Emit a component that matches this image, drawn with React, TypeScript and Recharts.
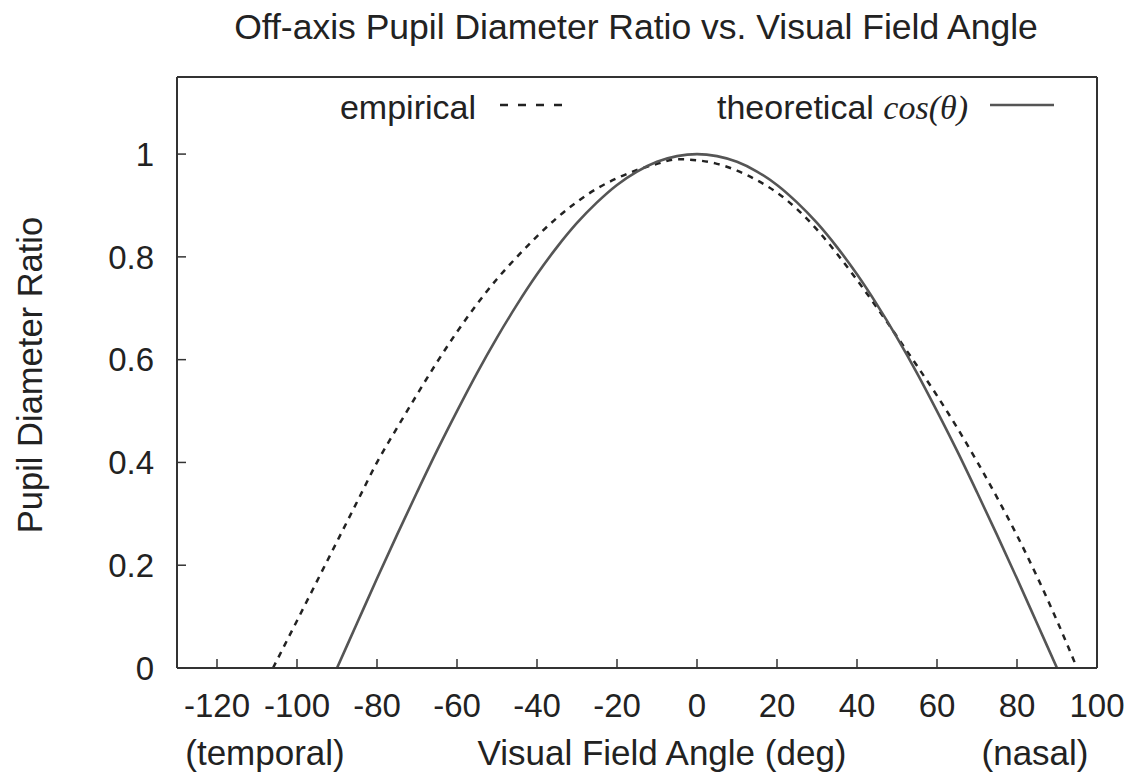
import React from 'react';
import { LineChart, Line, XAxis, YAxis, Legend } from 'recharts';

// empirical curve
const empAngles = [
  -106, -100, -95, -90, -85, -80, -75, -70, -65, -60, -55, -50, -45, -40, -35, -30, -25, -20, -15, -10, -5,
  0, 5, 10, 15, 20, 25, 30, 35, 40, 45, 50, 55, 60, 65, 70, 75, 80, 85, 90, 95,
];
const empValues = [
  0, 0.092, 0.169, 0.246, 0.323, 0.4, 0.467, 0.532, 0.595, 0.654, 0.708, 0.757, 0.8, 0.84, 0.876, 0.907, 0.933,
  0.953, 0.969, 0.981, 0.99, 0.988, 0.981, 0.968, 0.949, 0.925, 0.893, 0.853, 0.806, 0.755, 0.701, 0.645, 0.588,
  0.53, 0.468, 0.402, 0.332, 0.258, 0.178, 0.092, 0,
];

// theoretical cos(theta), solid line
const theoAngles = [
  -90, -85, -80, -75, -70, -65, -60, -55, -50, -45, -40, -35, -30, -25, -20, -15, -10, -5, 0, 5, 10, 15, 20, 25,
  30, 35, 40, 45, 50, 55, 60, 65, 70, 75, 80, 85, 90,
];
const theoValues = [
  0, 0.087, 0.174, 0.259, 0.342, 0.423, 0.5, 0.574, 0.643, 0.707, 0.766, 0.819, 0.866, 0.906, 0.94, 0.966, 0.985,
  0.996, 1, 0.996, 0.985, 0.966, 0.94, 0.906, 0.866, 0.819, 0.766, 0.707, 0.643, 0.574, 0.5, 0.423, 0.342, 0.259,
  0.174, 0.087, 0,
];

const xTicks = [-120, -100, -80, -60, -40, -20, 0, 20, 40, 60, 80, 100];
const yTicks = [0, 0.2, 0.4, 0.6, 0.8, 1];

const empirical = empAngles.map((a, i) => ({ angle: a, value: empValues[i] }));
const theoretical = theoAngles.map((a, i) => ({ angle: a, value: theoValues[i] }));

const FONT = '"Liberation Sans", Arial, sans-serif';
const INK = '#222';
const AXIS = '#333';
const SOLID = '#555';
const tickStyle = { fontSize: 33, fill: INK, fontFamily: FONT };

const LegendBox = () => (
  <div style={{ position: 'relative', width: 1146, height: 40, fontFamily: FONT, fontSize: 34, color: INK }}>
    <span style={{ position: 'absolute', right: 1146 - 476, top: 0, lineHeight: '40px' }}>empirical</span>
    <svg style={{ position: 'absolute', left: 500, top: 0 }} width={66} height={40}>
      <line x1={0} y1={18} x2={64} y2={18} stroke={INK} strokeWidth={2.5} strokeDasharray="8 10" />
    </svg>
    <span style={{ position: 'absolute', right: 1146 - 968, top: 0, lineHeight: '40px', whiteSpace: 'nowrap' }}>
      theoretical{' '}
      <span style={{ fontFamily: '"Liberation Serif", serif', fontStyle: 'italic' }}>cos(θ)</span>
    </span>
    <svg style={{ position: 'absolute', left: 990, top: 0 }} width={66} height={40}>
      <line x1={0} y1={18} x2={64} y2={18} stroke={SOLID} strokeWidth={2.6} />
    </svg>
  </div>
);

const textStyle: React.CSSProperties = {
  position: 'absolute',
  fontFamily: FONT,
  fontSize: 35,
  color: INK,
  whiteSpace: 'nowrap',
  lineHeight: '39px',
  transform: 'translateX(-50%)',
};

export default function App() {
  return (
    <div style={{ position: 'absolute', left: 0, top: 0, width: 1146, height: 778, background: '#fff' }}>
      <LineChart
        width={1146}
        height={778}
        margin={{ top: 76, right: 48, bottom: 50, left: 77 }}
      >
        <XAxis
          xAxisId="bottom"
          type="number"
          dataKey="angle"
          domain={[-130, 100]}
          allowDataOverflow
          ticks={xTicks}
          height={60}
          tickSize={-9}
          tickMargin={35}
          tick={tickStyle}
          axisLine={{ stroke: AXIS, strokeWidth: 2 }}
          tickLine={{ stroke: AXIS, strokeWidth: 1.5 }}
        />
        <XAxis
          xAxisId="top"
          orientation="top"
          type="number"
          dataKey="angle"
          domain={[-130, 100]}
          allowDataOverflow
          ticks={xTicks}
          height={1}
          tickSize={-9}
          tick={false}
          axisLine={{ stroke: AXIS, strokeWidth: 2 }}
          tickLine={{ stroke: AXIS, strokeWidth: 1.5 }}
        />
        <YAxis
          yAxisId="left"
          type="number"
          domain={[0, 1.15]}
          allowDataOverflow
          ticks={yTicks}
          width={100}
          tickSize={-9}
          tickMargin={32}
          tick={tickStyle}
          axisLine={{ stroke: AXIS, strokeWidth: 2 }}
          tickLine={{ stroke: AXIS, strokeWidth: 1.5 }}
        />
        <YAxis
          yAxisId="right"
          orientation="right"
          type="number"
          domain={[0, 1.15]}
          allowDataOverflow
          ticks={yTicks}
          width={1}
          tickSize={-9}
          tick={false}
          axisLine={{ stroke: AXIS, strokeWidth: 2 }}
          tickLine={{ stroke: AXIS, strokeWidth: 1.5 }}
        />
        <Legend
          layout="vertical"
          verticalAlign="middle"
          align="center"
          content={() => <LegendBox />}
          wrapperStyle={{ top: 87, left: 0, width: 1146 }}
        />
        <Line
          xAxisId="bottom"
          yAxisId="left"
          data={empirical}
          dataKey="value"
          type="monotone"
          stroke={INK}
          strokeWidth={2.5}
          strokeDasharray="6 6"
          dot={false}
          activeDot={false}
          isAnimationActive={false}
        />
        <Line
          xAxisId="bottom"
          yAxisId="left"
          data={theoretical}
          dataKey="value"
          type="monotone"
          stroke={SOLID}
          strokeWidth={2.6}
          dot={false}
          activeDot={false}
          isAnimationActive={false}
        />
      </LineChart>
      <div style={{ ...textStyle, left: 636, top: 8, fontSize: 35.5 }}>
        Off-axis Pupil Diameter Ratio vs. Visual Field Angle
      </div>
      <div style={{ ...textStyle, left: 662, top: 733 }}>Visual Field Angle (deg)</div>
      <div style={{ ...textStyle, left: 265, top: 733 }}>(temporal)</div>
      <div style={{ ...textStyle, left: 1035, top: 733 }}>(nasal)</div>
      <div
        style={{
          ...textStyle,
          fontSize: 34.5,
          left: 30,
          top: 375,
          transform: 'translate(-50%, -50%) rotate(-90deg)',
        }}
      >
        Pupil Diameter Ratio
      </div>
    </div>
  );
}
